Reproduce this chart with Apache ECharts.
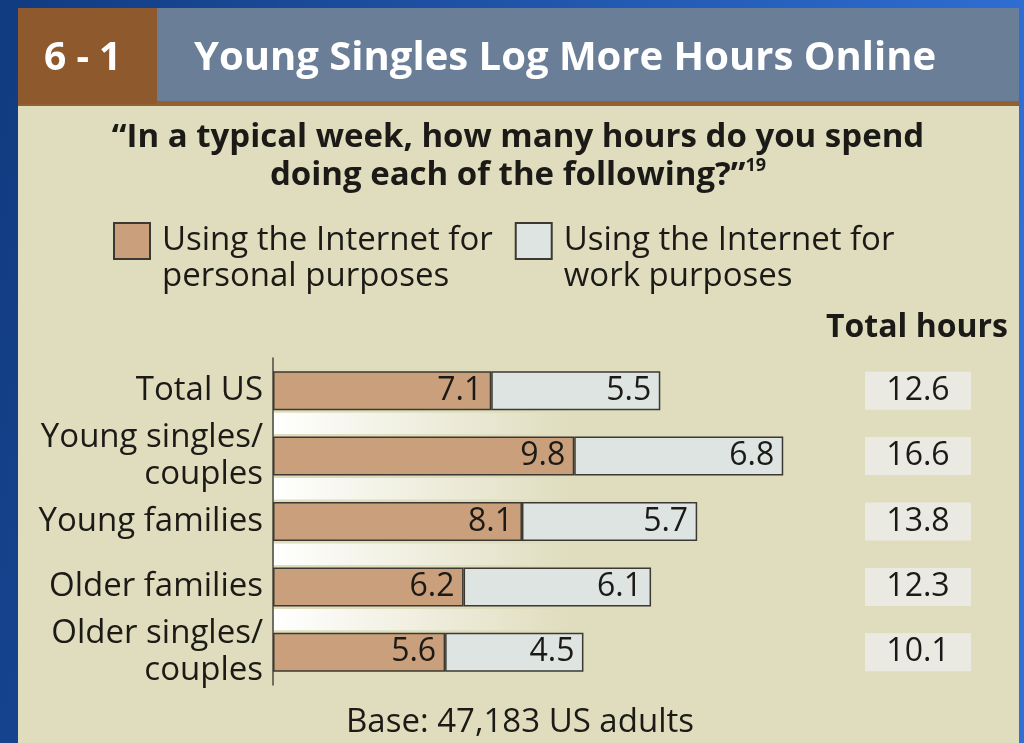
<!DOCTYPE html>
<html><head><meta charset="utf-8">
<script src="https://cdn.jsdelivr.net/npm/echarts@6/dist/echarts.min.js"></script>
<style>html,body{margin:0;padding:0;width:1024px;height:743px;overflow:hidden;background:#1a4c9c}#c{width:1024px;height:743px}</style>
</head><body><div id="c"></div>
<script>
// ---- data ----
const categories = ['Total US', 'Young singles/\ncouples', 'Young families', 'Older families', 'Older singles/\ncouples'];
const personal = [7.1, 9.8, 8.1, 6.2, 5.6];
const work = [5.5, 6.8, 5.7, 6.1, 4.5];
const totals = ['12.6', '16.6', '13.8', '12.3', '10.1'];
const seriesNames = ['Using the Internet for\npersonal purposes', 'Using the Internet for\nwork purposes'];
const gapRows = [0, 1, 2, 3];

const FONT = 'Open Sans';
const BEIGE = '#dfddbd';
const INK = '#1c1a16';
const chart = echarts.init(document.getElementById('c'));

const option = {
  animation: false,
  backgroundColor: new echarts.graphic.LinearGradient(0, 0, 1, 0.3, [
    { offset: 0, color: '#113b80' }, { offset: 1, color: '#2f6fd6' }
  ]),
  textStyle: { fontFamily: FONT },
  graphic: [
    { type: 'rect', z: -10, shape: { x: 18, y: 8, width: 1001, height: 760 }, style: { fill: BEIGE } },
    { type: 'rect', z: -9, shape: { x: 157, y: 8, width: 862, height: 94 }, style: { fill: '#6a7e98' } },
    { type: 'rect', z: -9, shape: { x: 18, y: 101, width: 1001, height: 5 }, style: { fill: '#93602f' } },
    { type: 'rect', z: -8, shape: { x: 18, y: 8, width: 139, height: 96 }, style: { fill: '#8d592d' } }
  ],
  title: [
    { text: '6 - 1', left: 44, top: 39, padding: 0, textStyle: { color: '#fff', fontSize: 39, fontWeight: 'bold', fontFamily: FONT } },
    { text: 'Young Singles Log More Hours Online', left: 194, top: 39, padding: 0, textStyle: { color: '#fff', fontSize: 40, fontWeight: 'bold', fontFamily: FONT } },
    { text: '{a|\u201cIn a typical week, how many hours do you spend}\n{a|doing each of the following?\u201d}{s|19}', left: 518, textAlign: 'center', top: 119, padding: 0,
      textStyle: { rich: {
        a: { fontSize: 33, fontWeight: 'bold', color: INK, lineHeight: 38, fontFamily: FONT },
        s: { fontSize: 18, color: INK, verticalAlign: 'top', lineHeight: 38, fontFamily: FONT, padding: [0, 0, 14, 0] }
      } } },
    { text: 'Total hours', left: 826, top: 312, padding: 0, textStyle: { color: INK, fontSize: 32, fontWeight: 'bold', fontFamily: FONT } },
    { text: 'Base: 47,183 US adults', left: 520, textAlign: 'center', top: 706, padding: 0, textStyle: { color: INK, fontSize: 33, fontWeight: 'normal', fontFamily: FONT } }
  ],
  legend: {
    data: seriesNames, left: 113, top: 187, padding: 0, icon: 'rect', itemWidth: 36, itemHeight: 36, itemGap: 22,
    formatter: function (name) { return '\n' + name; },
    textStyle: { fontSize: 33, lineHeight: 36, color: INK, fontFamily: FONT, padding: [0, 0, 0, 7] }
  },
  grid: { left: 273, top: 358, width: 584, height: 327, containLabel: false },
  xAxis: { type: 'value', min: 0, max: 19, show: false },
  yAxis: [
    { type: 'category', inverse: true, data: categories,
      axisLine: { lineStyle: { color: '#4a4840', width: 1.5 } }, axisTick: { show: false },
      axisLabel: { fontSize: 33, lineHeight: 37, color: INK, margin: 10, fontFamily: FONT } },
    { type: 'category', inverse: true, position: 'right', data: totals,
      axisLine: { show: false }, axisTick: { show: false },
      axisLabel: { margin: 61, align: 'center', width: 106, backgroundColor: '#ebeae2', padding: [4, 0, 4, 0],
        fontSize: 32, lineHeight: 30, color: INK, fontFamily: FONT } }
  ],
  series: [
    { type: 'custom', name: 'gaps', z: 1, silent: true,
      data: gapRows.map(i => [0, i]), encode: { x: 0, y: 1 },
      renderItem: function (params, api) {
        const i = api.value(1);
        const p0 = api.coord([0, i]);
        const p1 = api.coord([0, i + 1]);
        const top = p0[1] + 22, bottom = p1[1] - 22;
        return { type: 'rect', shape: { x: p0[0] + 1, y: top, width: 300, height: bottom - top },
          style: { fill: new echarts.graphic.LinearGradient(0, 0, 1, 0, [
            { offset: 0, color: 'rgba(255,255,255,1)' }, { offset: 1, color: 'rgba(255,255,255,0)' }]) } };
      } },
    { type: 'bar', name: seriesNames[0], stack: 'h', data: personal, barWidth: 39, z: 3,
      itemStyle: { color: '#c9a07b', borderColor: '#3b3932', borderWidth: 1.5 },
      label: { show: true, position: 'insideRight', distance: 9, fontSize: 32, color: INK, fontFamily: FONT } },
    { type: 'bar', name: seriesNames[1], stack: 'h', data: work, barWidth: 39, z: 3,
      itemStyle: { color: '#dde4e2', borderColor: '#3b3932', borderWidth: 1.5 },
      label: { show: true, position: 'insideRight', distance: 9, fontSize: 32, color: INK, fontFamily: FONT } }
  ]
};
chart.setOption(option);
</script></body></html>
